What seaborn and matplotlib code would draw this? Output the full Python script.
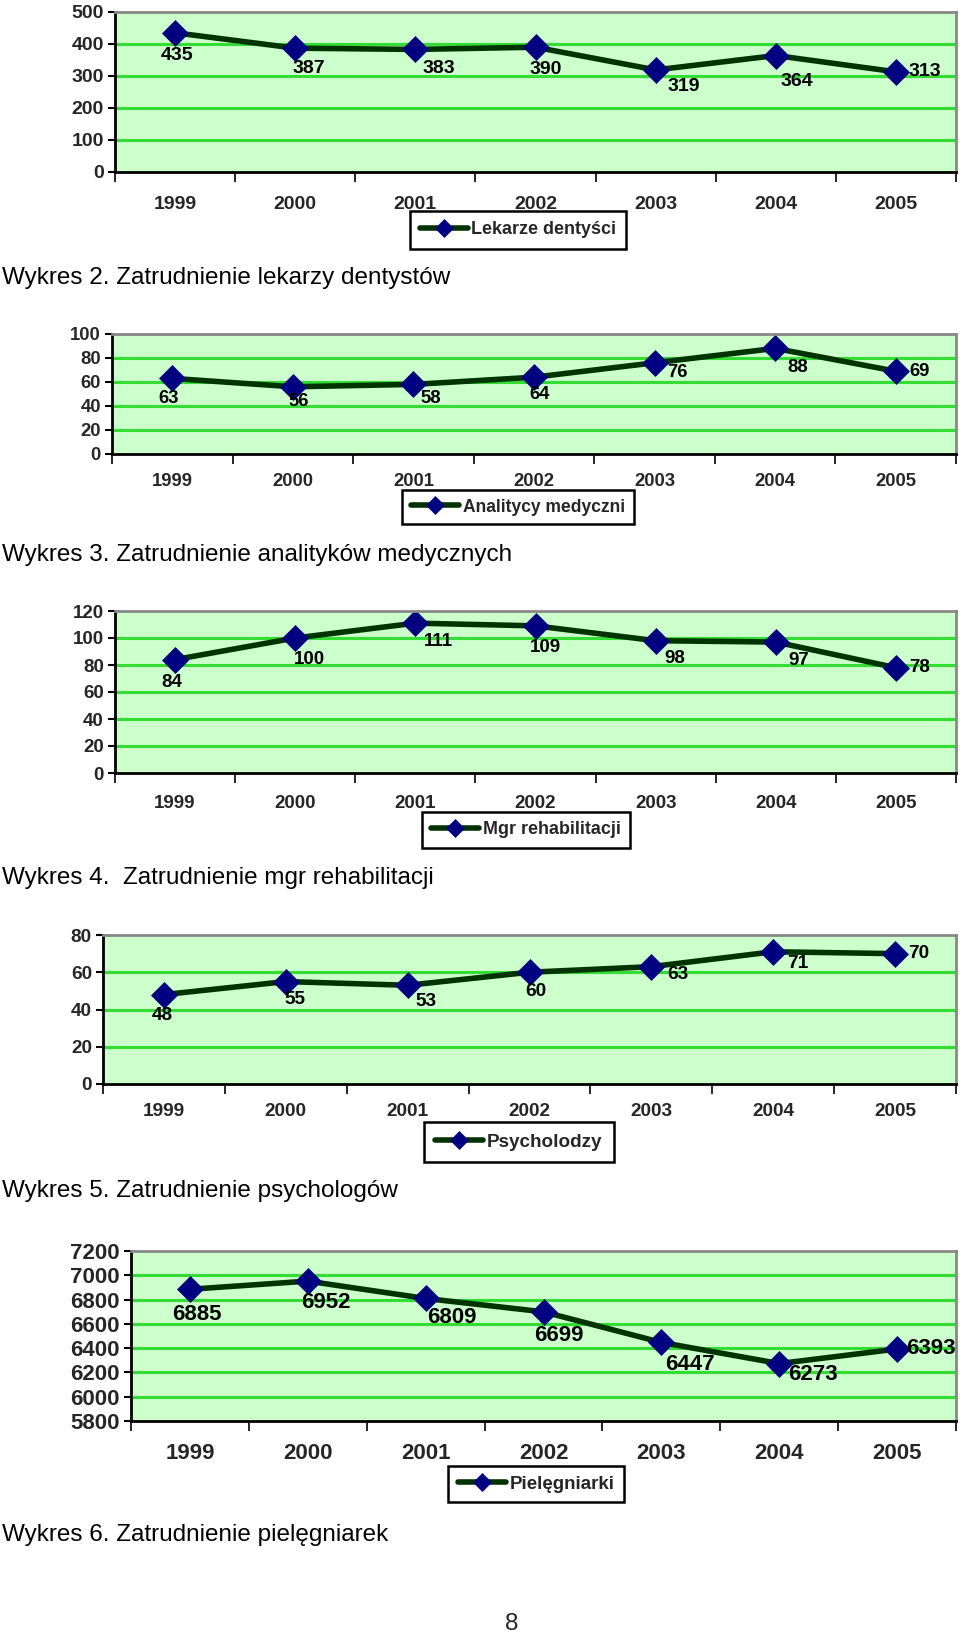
import numpy as np
import pandas as pd
import matplotlib
matplotlib.use("Agg")
import matplotlib.pyplot as plt
import seaborn as sns

# Data
years = ["1999", "2000", "2001", "2002", "2003", "2004", "2005"]
dentysci = [435, 387, 383, 390, 319, 364, 313]
analitycy = [63, 56, 58, 64, 76, 88, 69]
rehabilitacja = [84, 100, 111, 109, 98, 97, 78]
psycholodzy = [48, 55, 53, 60, 63, 71, 70]
pielegniarki = [6885, 6952, 6809, 6699, 6447, 6273, 6393]

series_names = ["Lekarze dentyści", "Analitycy medyczni", "Mgr rehabilitacji",
                "Psycholodzy", "Pielęgniarki"]
captions = ["Wykres 2. Zatrudnienie lekarzy dentystów",
            "Wykres 3. Zatrudnienie analityków medycznych",
            "Wykres 4.  Zatrudnienie mgr rehabilitacji",
            "Wykres 5. Zatrudnienie psychologów",
            "Wykres 6. Zatrudnienie pielęgniarek"]
y_ranges = [(0, 500, 100), (0, 100, 20), (0, 120, 20), (0, 80, 20), (5800, 7200, 200)]

sns.set_theme(style="white")
plt.rcParams["font.family"] = ["Liberation Sans", "DejaVu Sans"]

W, H = 960, 1638
fig = plt.figure(figsize=(W / 100, H / 100), dpi=100)

# layout in pixels: left, right, top, bottom of plot area
boxes = [(115, 956, 12, 172), (112, 956, 334, 454), (115, 956, 611, 773),
         (103, 956, 935, 1084), (131, 956, 1251, 1421)]
legend_pos = [(518, 230), (518, 507), (526, 830), (519, 1142), (536, 1484)]
legend_h = [36, 33, 35, 39, 36]
legend_fs = [13, 12.65, 12.9, 13.6, 13.5]
caption_y = [278, 555, 878, 1191, 1535]
tick_fs = [14, 13.3, 13.5, 13.7, 16]
x_pad = [17, 14, 15.5, 14, 16]

# label offsets (pixels, right / down)
offsets = [
    [(2, 23), (14, 20), (23, 19), (10, 22), (28, 17), (21, 26), (29, 0)],
    [(-4, 20), (6, 15), (17, 14), (6, 17), (23, 10), (23, 19), (24, 0)],
    [(-3, 23), (14, 21), (23, 18), (10, 22), (19, 18), (23, 18), (24, 0)],
    [(-2, 21), (9, 18), (18, 16), (6, 19), (26, 8), (25, 12), (24, 0)],
    [(7, 25), (18, 21), (26, 19), (15, 24), (29, 22), (34, 11), (34, 0)],
]

all_values = [dentysci, analitycy, rehabilitacja, psycholodzy, pielegniarki]
bg = "#CCFFCC"
grid_c = "#33DD33"
line_c = "#003300"
mark_c = "#000080"

for i, vals in enumerate(all_values):
    l, r, t, b = boxes[i]
    ax = fig.add_axes([l / W, 1 - b / H, (r - l) / W, (b - t) / H])
    ax.set_facecolor(bg)
    df = pd.DataFrame({"Rok": np.arange(len(years)), "Liczba": vals})
    sns.lineplot(data=df, x="Rok", y="Liczba", ax=ax, color=line_c, linewidth=4,
                 marker="D", markersize=13, markerfacecolor=mark_c,
                 markeredgecolor=mark_c, markeredgewidth=0.5,
                 label=series_names[i], legend=False)
    lo, hi, step = y_ranges[i]
    ax.set_ylim(lo, hi)
    ax.set_xlim(-0.5, len(years) - 0.5)
    yt = np.arange(lo, hi + 1, step)
    ax.set_yticks(yt)
    for v in yt[1:-1]:
        ax.axhline(v, color=grid_c, linewidth=2.2, zorder=0.5)
    fs = tick_fs[i]
    ax.tick_params(axis="y", direction="out", length=5, width=1.5, pad=3,
                   labelsize=fs, left=True, color="black")
    for lab in ax.get_yticklabels():
        lab.set_fontweight("bold")
    ax.set_xticks(range(len(years)))
    ax.set_xticklabels(years, fontsize=fs, fontweight="bold")
    ax.tick_params(axis="x", which="major", length=0, pad=x_pad[i])
    ax.set_xticks(np.arange(-0.5, len(years), 1), minor=True)
    ax.tick_params(axis="x", which="minor", direction="out", length=7, width=1.2,
                   bottom=True, color="black")
    ax.set_xlabel("")
    ax.set_ylabel("")
    for side in ["left", "bottom"]:
        ax.spines[side].set_color("black")
        ax.spines[side].set_linewidth(2)
    for side in ["top", "right"]:
        ax.spines[side].set_color("#888888")
        ax.spines[side].set_linewidth(2)
    for j, v in enumerate(vals):
        dx, dy = offsets[i][j]
        ax.annotate(str(v), (j, v), xytext=(dx, -dy), textcoords="offset pixels",
                    ha="center", va="center", fontsize=fs, fontweight="bold",
                    color="black")
    # legend box below the axis
    lfs = legend_fs[i]
    fs_px = lfs * 100 / 72
    bp = (legend_h[i] / fs_px - 0.88) / 2
    lx, ly = legend_pos[i]
    leg = ax.legend(loc="center", bbox_to_anchor=(lx / W, 1 - ly / H),
                    bbox_transform=fig.transFigure, fancybox=False, shadow=False,
                    frameon=True, handlelength=48 / fs_px, handletextpad=0.2,
                    markerscale=0.72, borderpad=bp,
                    prop={"size": lfs, "weight": "bold"})
    leg.get_frame().set_edgecolor("black")
    leg.get_frame().set_linewidth(1.8)
    leg.get_frame().set_facecolor("white")
    leg.get_frame().set_alpha(1)
    fig.text(2 / W, 1 - caption_y[i] / H, captions[i], fontsize=17.5,
             ha="left", va="center", color="black")

fig.text(512 / W, 1 - 1624 / H, "8", fontsize=17.5, ha="center", va="center")

fig.savefig("out.png", dpi=100)
